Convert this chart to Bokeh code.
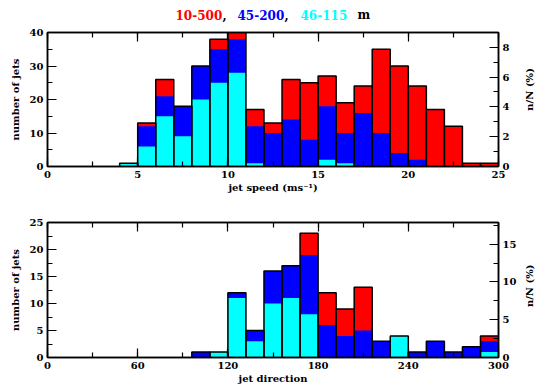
import math
from bokeh.plotting import figure
from bokeh.models import (Range1d, LinearAxis, SingleIntervalTicker, ColumnDataSource,
                          CustomLabelingPolicy)
from bokeh.core.properties import value
from bokeh.layouts import column, row
from bokeh.embed import file_html
from bokeh.resources import INLINE

# ---- data: jet speed histogram (bins of 1 m/s, left edges) ----
speed_left = [4, 5, 6, 7, 8, 9, 10, 11, 12, 13, 14, 15, 16, 17, 18, 19, 20, 21, 22, 23, 24]
speed_10_500 = [1, 13, 26, 18, 30, 38, 40, 17, 13, 26, 25, 27, 19, 24, 35, 30, 24, 17, 12, 1, 1]
speed_45_200 = [1, 12, 21, 18, 30, 35, 38, 12, 10, 14, 8, 18, 10, 16, 10, 4, 2, 0, 0, 0, 0]
speed_46_115 = [1, 6, 15, 9, 20, 25, 28, 1, 0, 0, 0, 2, 1, 0, 0, 0, 0, 0, 0, 0, 0]
speed_total = 445
speed_bin = 1

# ---- data: jet direction histogram (bins of 12 deg, left edges) ----
dir_left = [96, 108, 120, 132, 144, 156, 168, 180, 192, 204, 216, 228, 240, 252, 264, 276, 288]
dir_10_500 = [1, 1, 12, 5, 16, 17, 23, 12, 9, 13, 3, 4, 1, 3, 1, 2, 4]
dir_45_200 = [1, 1, 12, 5, 16, 17, 19, 6, 4, 5, 3, 4, 1, 3, 1, 2, 3]
dir_46_115 = [0, 1, 11, 3, 10, 11, 8, 0, 0, 0, 0, 4, 0, 0, 0, 0, 1]
dir_total = 140
dir_bin = 12

# ---- title pieces ----
title_text = ["10-500", ",", "45-200", ",", "46-115", "m"]
title_color = ["#ff0000", "black", "#0000ff", "black", "#00ffff", "black"]

FONT = "DejaVu Serif"
RED, BLUE, CYAN = "#ff0000", "#0000ff", "#00ffff"


def style_axis(ax, show_labels=True):
    ax.major_tick_in = 9
    ax.major_tick_out = 0
    ax.minor_tick_in = 5
    ax.minor_tick_out = 0
    ax.axis_line_color = "black"
    ax.axis_line_width = 1.5
    ax.major_tick_line_color = "black"
    ax.minor_tick_line_color = "black"
    ax.major_tick_line_width = 1.2
    ax.minor_tick_line_width = 1.2
    ax.major_label_text_font = FONT
    ax.major_label_text_font_style = "bold"
    ax.major_label_text_font_size = "10px"
    ax.major_label_text_color = "black"
    ax.major_label_standoff = 4
    ax.axis_label_text_font = FONT
    ax.axis_label_text_font_style = "bold"
    ax.axis_label_text_font_size = "10px"
    ax.axis_label_text_color = "black"
    ax.axis_label_standoff = 1
    if not show_labels:
        ax.major_label_policy = CustomLabelingPolicy(code="return new Set()")
        ax.major_label_standoff = 0


def make_panel(left, vals_a, vals_b, vals_c, binw, xmax, ymax, total,
               xint, yint, rint, xlabel, top_border, bottom_border, frame_h):
    src = ColumnDataSource(dict(
        left=left,
        right=[v + binw for v in left],
        a=vals_a, b=vals_b, c=vals_c,
    ))
    p = figure(frame_width=451, frame_height=frame_h,
               x_range=Range1d(0, xmax), y_range=Range1d(0, ymax),
               output_backend="svg", toolbar_location=None,
               min_border_left=47, min_border_right=24,
               min_border_top=top_border, min_border_bottom=bottom_border,
               background_fill_color="white", border_fill_color="white")
    p.xgrid.visible = False
    p.ygrid.visible = False
    p.outline_line_color = "black"
    p.outline_line_width = 1.5

    p.quad(left="left", right="right", bottom=0, top="a", source=src,
           fill_color=RED, line_color=None)
    p.quad(left="left", right="right", bottom=0, top="b", source=src,
           fill_color=BLUE, line_color=None)
    p.quad(left="left", right="right", bottom=0, top="c", source=src,
           fill_color=CYAN, line_color=None)
    p.quad(left="left", right="right", bottom=0, top="a", source=src,
           fill_alpha=0, line_color="black", line_width=1.5)

    p.xaxis.ticker = SingleIntervalTicker(interval=xint, num_minor_ticks=2)
    p.yaxis.ticker = SingleIntervalTicker(interval=yint, num_minor_ticks=2)
    p.xaxis.axis_label = xlabel
    p.yaxis.axis_label = "number of jets"
    for ax in p.xaxis + p.yaxis:
        style_axis(ax)
    p.yaxis.axis_label_standoff = 6

    top_ax = LinearAxis(ticker=SingleIntervalTicker(interval=xint, num_minor_ticks=2))
    style_axis(top_ax, show_labels=False)
    p.add_layout(top_ax, "above")

    p.extra_y_ranges = {"pct": Range1d(0, ymax * 100.0 / total)}
    r_ax = LinearAxis(y_range_name="pct",
                      ticker=SingleIntervalTicker(interval=rint, num_minor_ticks=2))
    style_axis(r_ax)
    p.add_layout(r_ax, "right")
    return p


def side_label(height, y_center_from_top):
    f = figure(width=20, height=height, x_range=Range1d(0, 20), y_range=Range1d(0, height),
               output_backend="svg", toolbar_location=None, min_border=0,
               outline_line_color=None, background_fill_color="white",
               border_fill_color="white")
    f.axis.visible = False
    f.grid.visible = False
    f.text(x=[7], y=[height - y_center_from_top], text=["n/N (%)"], angle=math.pi / 2,
           text_font=value(FONT), text_font_style="bold", text_font_size="10px",
           text_color="black", text_align="center", text_baseline="middle")
    return f


# title strip
pt = figure(width=542, height=22, x_range=Range1d(0, 542), y_range=Range1d(0, 22),
            output_backend="svg", toolbar_location=None, min_border=0,
            outline_line_color=None, background_fill_color="white",
            border_fill_color="white")
pt.axis.visible = False
pt.grid.visible = False
title_x = [175, 222, 237, 284, 300, 357]
pt.text(x=title_x, y=[8] * len(title_text), text=title_text, text_color=title_color,
        text_font=value(FONT), text_font_style="bold", text_font_size="12px",
        text_baseline="middle", text_align="left")

p1 = make_panel(speed_left, speed_10_500, speed_45_200, speed_46_115, speed_bin,
                25, 40, speed_total, 5, 10, 2, "jet speed (ms\u207b\u00b9)", 8, 32, 134)
p2 = make_panel(dir_left, dir_10_500, dir_45_200, dir_46_115, dir_bin,
                300, 25, dir_total, 60, 5, 5, "jet direction", 24, 35, 135)

lab1 = side_label(8 + 134 + 32, 8 + 67)
lab2 = side_label(24 + 135 + 35, 24 + 67)

layout = column(pt, row(p1, lab1, spacing=0), row(p2, lab2, spacing=0), spacing=0)
open("out.html", "w").write(file_html(layout, INLINE))
